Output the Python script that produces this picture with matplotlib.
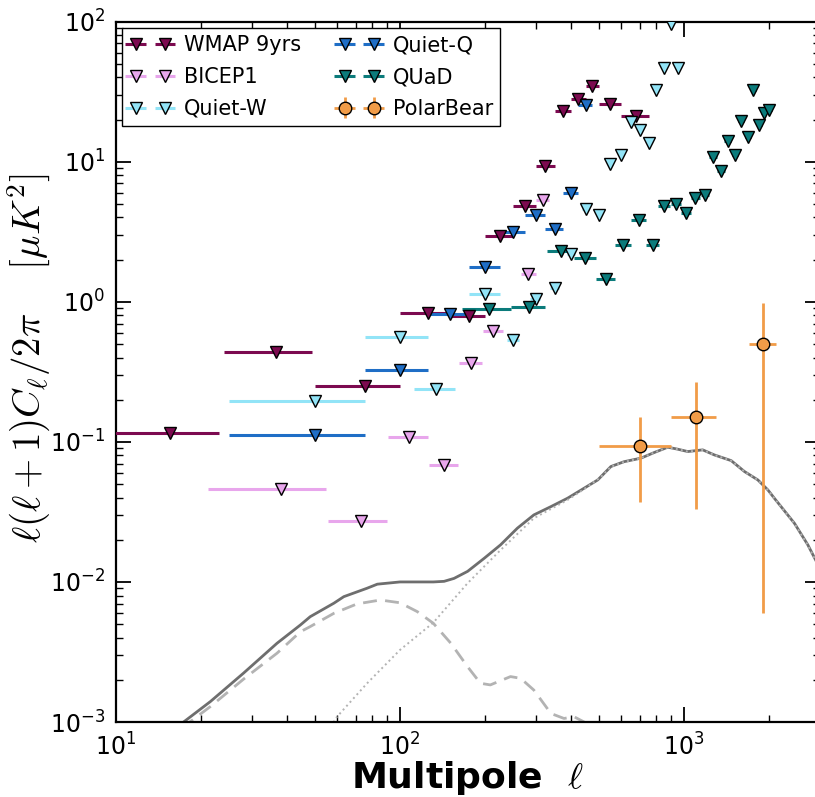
import matplotlib
matplotlib.use("Agg")
import matplotlib.pyplot as plt
import numpy as np

# ---------------- data ----------------
wmap_l    = [15.5, 36.5, 75, 125, 175, 225, 275, 325, 375, 425, 475, 550, 675]
wmap_lerr = [7.5, 12.5, 25, 25, 25, 25, 25, 25, 25, 25, 25, 50, 75]
wmap_c    = [0.115, 0.44, 0.25, 0.83, 0.79, 2.93, 4.85, 9.36, 22.9, 28.1, 34.9, 25.9, 21.3]

bicep_l    = [38, 73, 108, 143, 178, 213, 283, 318]
bicep_lerr = [17, 17, 17, 17, 17, 17, 17, 17]
bicep_c    = [0.0459, 0.0274, 0.109, 0.0686, 0.366, 0.618, 1.58, 5.36]

quietw_l    = [50, 100, 134, 200, 250, 300, 350, 400, 450, 500, 550, 600, 650, 700, 750, 800, 850, 900, 950]
quietw_lerr = [25, 25, 22, 25, 12, 12, 12, 12, 12, 12, 12, 12, 12, 12, 12, 12, 12, 12, 12]
quietw_c    = [0.196, 0.565, 0.239, 1.13, 0.53, 1.045, 1.26, 2.19, 4.59, 4.18, 9.68, 11.1, 19.1, 16.9, 13.7, 32.7, 46.7, 97, 46.7]

quietq_l    = [50, 100, 150, 200, 250, 300, 350, 400, 450]
quietq_lerr = [25, 25, 25, 25, 25, 25, 25, 25, 25]
quietq_c    = [0.1117, 0.327, 0.82, 1.77, 3.15, 4.14, 3.32, 5.97, 25.5]

quad_l = [205, 285, 368, 449, 531, 611, 692, 776, 853, 937, 1018, 1097, 1186,
          1265, 1351, 1427, 1510, 1593, 1678, 1755, 1844, 1910, 2000]
quad_lerr = [40] * 23
quad_c = [0.887, 0.912, 2.29, 2.05, 1.45, 2.55, 3.85, 2.55, 4.85, 4.99, 4.30, 5.5, 5.8,
          10.8, 8.53, 14.1, 11.1, 19.7, 15.0, 32.3, 18.2, 22.3, 23.5]

pb_l       = [700, 1100, 1900]
pb_lerr    = [200, 200, 200]
pb_c       = [0.094, 0.151, 0.50]
pb_cerr_lo = [0.057, 0.118, 0.494]
pb_cerr_hi = [0.056, 0.116, 0.48]

# theory curves
tot_l = [17.3, 21.5, 28.1, 36.9, 44.6, 48.3, 58.5, 63.4, 76.6, 83.2, 100, 131, 143, 155,
         173, 198, 226, 259, 296, 340, 389, 445, 497, 553, 615, 705, 785, 877, 950,
         1031, 1164, 1279, 1466, 1633, 1820, 1974, 2080, 2449, 2729, 2925, 3000]
tot_c = [0.001, 0.0014, 0.00223, 0.00365, 0.00493, 0.00565, 0.00705, 0.00785, 0.00902,
         0.00964, 0.0100, 0.0100, 0.0101, 0.0106, 0.0119, 0.01476, 0.0184, 0.0242, 0.0301,
         0.0345, 0.0396, 0.0467, 0.0535, 0.0667, 0.0722, 0.0765, 0.0839, 0.0916, 0.0887,
         0.0853, 0.0877, 0.0807, 0.0735, 0.0614, 0.0535, 0.0454, 0.0396, 0.0262, 0.0184,
         0.0140, 0.0133]

ten_l = [15, 18.2, 21.5, 28.1, 36.9, 44.6, 48.3, 58.5, 70.6, 85.3, 100, 115, 131, 151,
         173, 192, 208, 245, 266, 296, 340, 378, 410, 445, 520]
ten_c = [0.0007, 0.001, 0.00129, 0.00202, 0.0031, 0.00441, 0.0048, 0.00597, 0.00697,
         0.00743, 0.0071, 0.00614, 0.00507, 0.00365, 0.00248, 0.00189, 0.00184, 0.00211,
         0.00205, 0.00169, 0.00115, 0.00106, 0.00109, 0.001, 0.0005]

len_l = [50, 60, 76.6, 100, 131, 173, 226, 296, 389, 445, 509, 553, 615, 705, 785, 877,
         950, 1031, 1164, 1279, 1466, 1633, 1820, 1974, 2080, 2449, 2729, 2925, 3000]
len_c = [0.0006, 0.00109, 0.00189, 0.00327, 0.00512, 0.0098, 0.0169, 0.0285, 0.0385,
         0.0460, 0.0560, 0.0664, 0.0720, 0.0764, 0.0838, 0.0915, 0.0886, 0.0852, 0.0876,
         0.0806, 0.0734, 0.0613, 0.0534, 0.0453, 0.0395, 0.0261, 0.0183, 0.0139, 0.0132]

# ---------------- style ----------------
plt.rcParams['font.family'] = ['DejaVu Sans']
plt.rcParams['mathtext.fontset'] = 'dejavusans'

fig = plt.figure(figsize=(8.15, 7.97), dpi=100)
W, H = 815.0, 797.0
ax = fig.add_axes([116 / W, (H - 722) / H, (819.5 - 116) / W, (722 - 21.7) / H])

ax.plot(tot_l, tot_c, '-', color='#6e6e6e', lw=2.0, zorder=2)
ax.plot(ten_l, ten_c, '--', color='#b3b3b3', lw=2.0, dashes=(5, 3), zorder=2)
ax.plot(len_l, len_c, ':', color='#b3b3b3', lw=1.4, zorder=2)

c_wmap = '#7c0a50'
c_bicep = '#e8a6ec'
c_qw = '#92e4f7'
c_qq = '#1f6ec6'
c_quad = '#0b7b7b'
c_pb = '#f19c48'

kw = dict(fmt='v', ms=9, mec='k', mew=1.0, elinewidth=2.2, capsize=0, ls='none', zorder=3)
h_wmap = ax.errorbar(wmap_l, wmap_c, xerr=wmap_lerr, color=c_wmap, mfc=c_wmap, ecolor=c_wmap, label='WMAP 9yrs', **kw)
h_bicep = ax.errorbar(bicep_l, bicep_c, xerr=bicep_lerr, color=c_bicep, mfc=c_bicep, ecolor=c_bicep, label='BICEP1', **kw)
h_qw = ax.errorbar(quietw_l, quietw_c, xerr=quietw_lerr, color=c_qw, mfc=c_qw, ecolor=c_qw, label='Quiet-W', **kw)
h_qq = ax.errorbar(quietq_l, quietq_c, xerr=quietq_lerr, color=c_qq, mfc=c_qq, ecolor=c_qq, label='Quiet-Q', **kw)
h_quad = ax.errorbar(quad_l, quad_c, xerr=quad_lerr, color=c_quad, mfc=c_quad, ecolor=c_quad, label='QUaD', **kw)
h_pb = ax.errorbar(pb_l, pb_c, xerr=pb_lerr, yerr=[pb_cerr_lo, pb_cerr_hi], fmt='o', ms=9,
                   mec='k', mew=1.0, color=c_pb, mfc=c_pb, ecolor=c_pb, elinewidth=2.0,
                   capsize=0, ls='none', zorder=4, label='PolarBear')

ax.set_xscale('log')
ax.set_yscale('log')
ax.set_xlim(10, 3000)
ax.set_ylim(1e-3, 1e2)

for s in ax.spines.values():
    s.set_linewidth(1.6)
ax.tick_params(which='both', direction='in', top=True, right=True)
ax.tick_params(which='major', length=11, width=1.3, labelsize=17, pad=8)
ax.tick_params(which='minor', length=5, width=1.0)

ax.set_xlabel(r'Multipole  $\ell$', fontsize=26, fontweight='bold', math_fontfamily='cm', labelpad=-1)
ax.set_ylabel(r'$\ell(\ell+1)C_\ell/2\pi\quad\ [\mu K^2]$', fontsize=28, math_fontfamily='cm')
ax.yaxis.set_label_coords(-0.09, 0.52)

leg = ax.legend([h_wmap, h_bicep, h_qw, h_qq, h_quad, h_pb],
                ['WMAP 9yrs', 'BICEP1', 'Quiet-W', 'Quiet-Q', 'QUaD', 'PolarBear'],
                loc='upper left', ncol=2, numpoints=2, fontsize=15, fancybox=False,
                framealpha=1, edgecolor='k', borderaxespad=0.3, handlelength=2.0,
                columnspacing=1.8, labelspacing=0.57, borderpad=0.35, handletextpad=0.6)
leg.get_frame().set_linewidth(1.0)

fig.savefig('out.png', dpi=100)
